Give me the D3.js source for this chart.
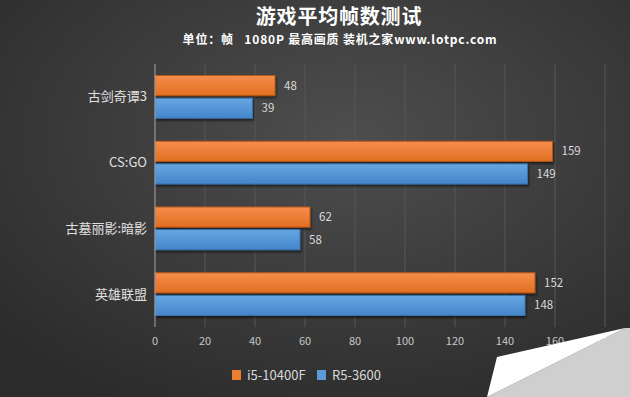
<!DOCTYPE html>
<html>
<head>
<meta charset="utf-8">
<script src="https://cdn.jsdelivr.net/npm/d3@7.9.0/dist/d3.min.js"></script>
<style>
  body { margin: 0; background: #333; }
  svg { display: block; }
  text { font-family: "Noto Sans CJK SC", "Open Sans", sans-serif; }
</style>
</head>
<body>
<svg id="chart" width="630" height="397"></svg>
<script>
const games = ['古剑奇谭3', 'CS:GO', '古墓丽影:暗影', '英雄联盟'];
const seriesNames = ['i5-10400F', 'R5-3600'];
const i5Values = [48, 159, 62, 152];
const r5Values = [39, 149, 58, 148];
const xTicks = [0, 20, 40, 60, 80, 100, 120, 140, 160, 180];
const seriesColors = ['#ED7D31', '#5B9BD5'];

const svg = d3.select('#chart');
const W = 630, H = 397;

// background
let defs = svg.append('defs');
let bg = defs.append('radialGradient').attr('id', 'bg')
  .attr('cx', 0.55).attr('cy', 0.35).attr('r', 0.75);
bg.append('stop').attr('offset', '0%').attr('stop-color', '#4e4e4e');
bg.append('stop').attr('offset', '100%').attr('stop-color', '#2b2b2b');

let grads = [['#f58d4c', '#e26f22'], ['#66a7e2', '#4585cb']];
grads.forEach((g, i) => {
  let lg = defs.append('linearGradient').attr('id', 'bar' + i)
    .attr('x1', 0).attr('y1', 0).attr('x2', 0).attr('y2', 1);
  lg.append('stop').attr('offset', '0%').attr('stop-color', g[0]);
  lg.append('stop').attr('offset', '100%').attr('stop-color', g[1]);
});
let sh = defs.append('filter').attr('id', 'shadow')
  .attr('x', '-5%').attr('y', '-20%').attr('width', '115%').attr('height', '160%');
sh.append('feDropShadow').attr('dx', 1).attr('dy', 2).attr('stdDeviation', 1)
  .attr('flood-color', '#000').attr('flood-opacity', 0.55);

svg.append('rect').attr('width', W).attr('height', H).attr('fill', 'url(#bg)');

// scales
let x = d3.scaleLinear().domain([0, 180]).range([155, 605]);
let y = d3.scaleBand().domain(games).range([64, 327]).padding(0);
let inner = d3.scaleBand().domain(seriesNames)
  .range([11.5, y.bandwidth() - 11.5]).paddingInner(0.11);

// gridlines
svg.append('g').selectAll('line')
  .data(xTicks.filter(d => d > 0))
  .join('line')
  .attr('x1', d => x(d)).attr('x2', d => x(d))
  .attr('y1', 64).attr('y2', 327)
  .attr('stroke', '#575757').attr('stroke-width', 1);

// bars
let data = games.map((g, i) => ({ game: g, vals: [i5Values[i], r5Values[i]] }));
let groups = svg.append('g').selectAll('g')
  .data(data).join('g')
  .attr('transform', d => `translate(0,${y(d.game)})`);

groups.selectAll('rect')
  .data(d => d.vals.map((v, i) => ({ v, s: seriesNames[i], i })))
  .join('rect')
  .attr('x', x(0))
  .attr('y', d => inner(d.s))
  .attr('width', d => x(d.v) - x(0))
  .attr('height', inner.bandwidth())
  .attr('fill', d => `url(#bar${d.i})`)
  .attr('stroke', d => d.i === 0 ? '#b5561a' : '#3a6fa8')
  .attr('stroke-width', 1)
  .attr('filter', 'url(#shadow)');

groups.selectAll('text')
  .data(d => d.vals.map((v, i) => ({ v, s: seriesNames[i] })))
  .join('text')
  .attr('x', d => x(d.v) + 9)
  .attr('y', d => inner(d.s) + inner.bandwidth() / 2)
  .attr('dy', '0.35em')
  .attr('fill', '#d9d9d9')
  .attr('font-size', 11.5)
  .text(d => d.v);

// axis line
svg.append('line')
  .attr('x1', x(0)).attr('x2', x(0)).attr('y1', 64).attr('y2', 327)
  .attr('stroke', '#a6a6a6').attr('stroke-width', 1);

// category labels
svg.append('g').selectAll('text')
  .data(games).join('text')
  .attr('x', 147)
  .attr('y', d => y(d) + y.bandwidth() / 2)
  .attr('dy', '0.35em')
  .attr('text-anchor', 'end')
  .attr('fill', '#e0e0e0')
  .attr('font-size', 13)
  .text(d => d);

// x tick labels
svg.append('g').selectAll('text')
  .data(xTicks).join('text')
  .attr('x', d => x(d))
  .attr('y', 345)
  .attr('text-anchor', 'middle')
  .attr('fill', '#c6c6c6')
  .attr('font-size', 11)
  .text(d => d);

// titles
svg.append('text')
  .attr('x', 339).attr('y', 23.5)
  .attr('text-anchor', 'middle')
  .attr('fill', '#ffffff').attr('font-size', 20).attr('font-weight', 'bold')
  .attr('letter-spacing', 0.8)
  .text('游戏平均帧数测试');
svg.append('text')
  .attr('x', 340).attr('y', 44)
  .attr('text-anchor', 'middle')
  .attr('fill', '#ffffff').attr('font-size', 12).attr('font-weight', 'bold')
  .attr('letter-spacing', 0.8)
  .attr('xml:space', 'preserve')
  .text('单位：帧   1080P 最高画质 装机之家www.lotpc.com');

// legend
let legendX = [232, 317];
let legend = svg.append('g').selectAll('g')
  .data(seriesNames).join('g')
  .attr('transform', (d, i) => `translate(${legendX[i]},370)`);
legend.append('rect')
  .attr('width', 9).attr('height', 10)
  .attr('fill', (d, i) => seriesColors[i]);
legend.append('text')
  .attr('x', 15).attr('y', 5).attr('dy', '0.36em')
  .attr('fill', '#d9d9d9').attr('font-size', 13)
  .attr('font-family', 'Open Sans, sans-serif')
  .text(d => d);

// page curl in the corner
svg.append('path')
  .attr('d', 'M625,328 L630,328 L630,397 L487,397 Z')
  .attr('fill', '#cfcfcf');
svg.append('path')
  .attr('d', 'M497,357 L625,328 L487,397 Z')
  .attr('fill', '#ffffff');
</script>
</body>
</html>
